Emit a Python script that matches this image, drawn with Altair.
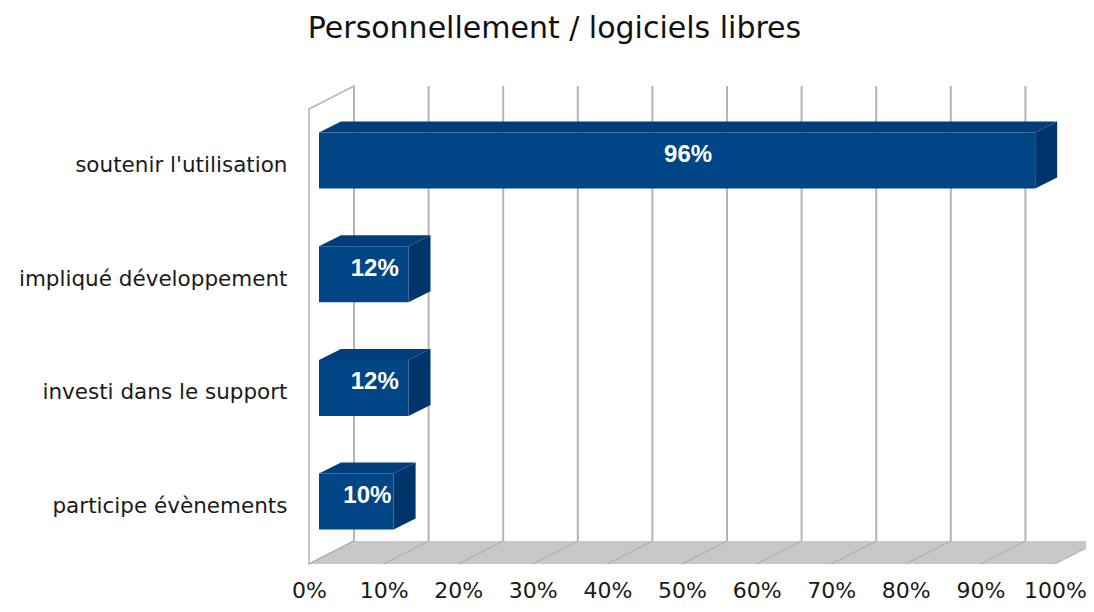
import json
import altair as alt
import pandas as pd

# ---------------- data ----------------
categories = [
    "soutenir l'utilisation",
    "impliqué développement",
    "investi dans le support",
    "participe évènements",
]
values = [0.96, 0.12, 0.12, 0.10]
tick_values = [0.0, 0.1, 0.2, 0.3, 0.4, 0.5, 0.6, 0.7, 0.8, 0.9, 1.0]
title_text = "Personnellement / logiciels libres"

# ---------------- layout (pixels -> data units) ----------------
PX_X = 746.0      # pixels per 100 %
PX_Y = 113.7      # pixels per category step
PLOT_W = 777
PLOT_H = 504
PAD_L, PAD_T, PAD_B = 301, 52, 40

X1 = PLOT_W / PX_X
Y0 = -100.5 / PX_Y
Y1 = Y0 + PLOT_H / PX_Y

WALL_DX = 45 / PX_X
WALL_DY = 23 / PX_Y
WALL_TOP = Y0 + 49 / PX_Y
FLOOR = Y1
BAR_X0 = 10 / PX_X
BAR_DX = 22 / PX_X
BAR_DY = 11 / PX_Y
BAR_HALF = 28 / PX_Y

FONT = "DejaVu Sans"
FRONT, TOP, SIDE = "#004586", "#003d7a", "#00356b"
GRID = "#b4b4b4"

xs = alt.Scale(domain=[0, X1], nice=False, zero=False)
ys = alt.Scale(domain=[Y0, Y1], nice=False, zero=False, reverse=True)

label_expr = "[" + ",".join(json.dumps(c, ensure_ascii=False) for c in categories) + "][datum.value]"

x_axis = alt.Axis(values=tick_values, format=".0%", domain=False, ticks=False, grid=False,
                  labelFont=FONT, labelFontSize=22, labelColor="#1a1a1a", labelPadding=16,
                  labelFlush=False, labelOverlap=False, title=None)
y_axis = alt.Axis(values=list(range(len(categories))), labelExpr=label_expr, domain=False,
                  ticks=False, grid=False, labelFont=FONT, labelFontSize=21.5,
                  labelColor="#1a1a1a", labelPadding=22, labelOffset=5, labelLimit=400,
                  title=None)


def X(f):
    return alt.X(f"{f}:Q", scale=xs, axis=x_axis)


def Y(f):
    return alt.Y(f"{f}:Q", scale=ys, axis=y_axis)


# ---------------- frame: wall, floor, grid ----------------
wall = pd.DataFrame({
    "x": [0, WALL_DX],
    "y": [WALL_TOP, WALL_TOP - WALL_DY],
    "y2": [FLOOR, FLOOR - WALL_DY],
})
floor = pd.DataFrame({
    "x": [0, WALL_DX, 1.0, 1.0 + WALL_DX],
    "y": [FLOOR, FLOOR - WALL_DY, FLOOR - WALL_DY, FLOOR - WALL_DY],
    "y2": [FLOOR, FLOOR, FLOOR, FLOOR - WALL_DY],
})
grid = pd.DataFrame({
    "x": [t + WALL_DX for t in tick_values],
    "xf": tick_values,
    "y": [WALL_TOP - WALL_DY] * len(tick_values),
    "y2": [FLOOR - WALL_DY] * len(tick_values),
    "yf": [FLOOR] * len(tick_values),
})

wall_l = alt.Chart(wall).mark_area(fill="white", stroke=GRID, strokeWidth=1.5).encode(
    x=X("x"), y=Y("y"), y2="y2")
grid_l = alt.Chart(grid).mark_rule(color=GRID, strokeWidth=2).encode(
    x=X("x"), y=Y("y"), y2="y2")
floor_l = alt.Chart(floor).mark_area(fill="#c8c8c8").encode(
    x=X("x"), y=Y("y"), y2="y2")
floor_lines = alt.Chart(grid).mark_rule(color="#a9a9a9", strokeWidth=1).encode(
    x=X("x"), y=Y("y2"), x2="xf", y2="yf")

# ---------------- bars ----------------
bars = pd.DataFrame({
    "cat": categories,
    "i": list(range(len(categories))),
    "v": values,
})
bars["x0"] = BAR_X0
bars["x1"] = BAR_X0 + bars["v"]
bars["top"] = bars["i"] - BAR_HALF
bars["bot"] = bars["i"] + BAR_HALF
bars["lx"] = BAR_X0 + bars["v"] / 2 + BAR_DX / 2
bars["ly"] = bars["i"] - BAR_DY / 2
bars["label"] = [f"{round(v * 100)}%" for v in values]

top_rows, side_rows = [], []
for _, r in bars.iterrows():
    t = r["top"]
    top_rows += [
        {"cat": r["cat"], "x": r["x0"], "y": t, "y2": t},
        {"cat": r["cat"], "x": r["x0"] + BAR_DX, "y": t - BAR_DY, "y2": t},
        {"cat": r["cat"], "x": r["x1"], "y": t - BAR_DY, "y2": t},
        {"cat": r["cat"], "x": r["x1"] + BAR_DX, "y": t - BAR_DY, "y2": t - BAR_DY},
    ]
    side_rows += [
        {"cat": r["cat"], "x": r["x1"], "y": t, "y2": r["bot"]},
        {"cat": r["cat"], "x": r["x1"] + BAR_DX, "y": t - BAR_DY, "y2": r["bot"] - BAR_DY},
    ]
tops = pd.DataFrame(top_rows)
sides = pd.DataFrame(side_rows)

side_l = alt.Chart(sides).mark_area(fill=SIDE).encode(
    x=X("x"), y=Y("y"), y2="y2", detail="cat:N")
top_l = alt.Chart(tops).mark_area(fill=TOP).encode(
    x=X("x"), y=Y("y"), y2="y2", detail="cat:N")
front_l = alt.Chart(bars).mark_rect(fill=FRONT).encode(
    x=X("x0"), x2="x1", y=Y("top"), y2="bot")
text_l = alt.Chart(bars).mark_text(font="Liberation Sans", fontSize=24, fontWeight="bold",
                                   color="white", baseline="middle", align="center").encode(
    x=X("lx"), y=Y("ly"), text="label:N")

chart = alt.layer(
    wall_l, grid_l, floor_l, floor_lines, side_l, top_l, front_l, text_l
).properties(
    width=PLOT_W,
    height=PLOT_H,
    autosize=alt.AutoSizeParams(type="none"),
    padding={"left": PAD_L, "top": PAD_T, "right": 0, "bottom": PAD_B},
    title=alt.TitleParams(text=title_text, font=FONT, fontSize=30, fontWeight="normal",
                          color="#111111", anchor="middle", dx=-143, offset=23, dy=31,
                          baseline="alphabetic"),
).configure(background="white").configure_view(stroke=None, strokeWidth=0)

chart.save("out.html", embed_options={"renderer": "svg", "actions": False})
